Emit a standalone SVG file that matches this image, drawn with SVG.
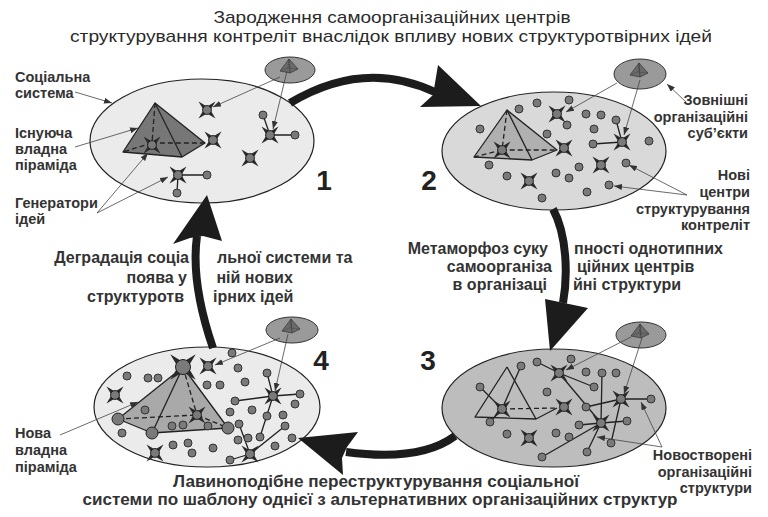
<svg xmlns="http://www.w3.org/2000/svg" width="768" height="517" viewBox="0 0 768 517">
<style>
.t{font-family:"Liberation Sans",Arial,sans-serif;font-weight:bold;fill:#333}
.lb{font-size:14.5px}
.r{text-anchor:end}
.e{text-anchor:end}
.s{text-anchor:start}
.mid{font-size:16px}
.num{font-size:28px;fill:#222}
.ttl{font-family:"Liberation Sans Narrow","Liberation Sans",Arial,sans-serif;font-weight:normal;font-size:17px;fill:#2a2a2a;text-anchor:middle}
.bt{font-size:16px;text-anchor:middle}
.ell{stroke:#222;stroke-width:1.2}
.sm{fill:#9a9a9a;stroke:#333;stroke-width:1}
.ln{stroke:#222;stroke-width:1.3;fill:none}
.ds{stroke:#222;stroke-width:1.3;stroke-dasharray:5 3;fill:none}
.pe{stroke:#222;stroke-width:1.3;stroke-linejoin:round}
.ld{stroke:#444;stroke-width:0.8;fill:none;marker-end:url(#ah)}
.big{stroke:#1c1c1c;stroke-width:8;fill:none}
.bh{fill:#1c1c1c}
</style>
<defs>
<marker id="ah" viewBox="0 0 8 6" refX="8" refY="3" markerWidth="8" markerHeight="6" markerUnits="userSpaceOnUse" orient="auto"><path d="M0,0 L8,3 L0,6 z" fill="#333"/></marker>
<g id="g"><polygon points="8.5,-8.5 3.4,0 8.5,8.5 0,3.4 -8.5,8.5 -3.4,0 -8.5,-8.5 0,-3.4" fill="#2a2a2a"/><circle r="4.4" fill="#7a7a7a" stroke="#222" stroke-width="1"/></g>
<circle id="d" r="4" fill="#7a7a7a" stroke="#333" stroke-width="1"/>
<g id="sp"><polygon points="0,-8 -9,4 1,6 9,2" fill="#6a6a6a" stroke="#333" stroke-width="0.7"/><path d="M0,-8 L1,6" stroke="#333" stroke-width="0.6"/><path d="M0,-8 L-1,1 L9,2 M-1,1 L-9,4" stroke="#333" stroke-width="0.5" stroke-dasharray="1.5 1" fill="none"/></g>
</defs>
<rect width="768" height="517" fill="#fff"/>

<g id="title">
<text class="ttl" x="392" y="23" textLength="357" lengthAdjust="spacingAndGlyphs">Зародження самоорганізаційних центрів</text>
<text class="ttl" x="391" y="42" textLength="642" lengthAdjust="spacingAndGlyphs">структурування контреліт  внаслідок впливу нових структуротвірних ідей</text>
</g>

<g id="node1">
<ellipse class="ell" cx="202" cy="141" rx="112" ry="62" fill="#ebebeb"/>
<polygon class="pe" points="155,103 123,152 182,157 205,143" fill="#777"/>
<path class="pe" d="M155,103 L182,157" fill="none"/>
<path class="ds" d="M155,103 L152,143 L205,143 M152,143 L123,152"/>
<use href="#g" x="152" y="145"/>
<path class="ln" d="M270,135 L295,135 M270,135 L263,115 M178,175 L207,175 M178,175 L177,193"/>
<use href="#d" x="295" y="135"/><use href="#d" x="263" y="115"/><use href="#d" x="207" y="175"/><use href="#d" x="177" y="193"/>
<use href="#g" x="207" y="110"/><use href="#g" x="213" y="140"/><use href="#g" x="270" y="135"/><use href="#g" x="250" y="158"/><use href="#g" x="178" y="175"/>
<ellipse class="sm" cx="290" cy="70" rx="25" ry="13"/>
<use href="#sp" x="289" y="67"/>
<text class="t num" x="324" y="190" text-anchor="middle">1</text>
</g>

<g id="node2">
<ellipse class="ell" cx="554" cy="151" rx="112" ry="59" fill="#d9d9d9"/>
<polygon class="pe" points="507,110 474,157 532,160 557,150" fill="#b0b0b0"/>
<path class="pe" d="M507,110 L532,160" fill="none"/>
<path class="ds" d="M507,110 L502,150 L557,150 M502,150 L474,157"/>
<path class="ln" d="M622,142 L593,144 M622,142 L616,120"/>
<use href="#d" x="537" y="103"/><use href="#d" x="569" y="100"/><use href="#d" x="519" y="109"/><use href="#d" x="480" y="129"/><use href="#d" x="547" y="134"/><use href="#d" x="567" y="125"/><use href="#d" x="586" y="114"/><use href="#d" x="601" y="115"/><use href="#d" x="594" y="129"/><use href="#d" x="616" y="120"/><use href="#d" x="593" y="144"/><use href="#d" x="649" y="141"/><use href="#d" x="489" y="165"/><use href="#d" x="507" y="176"/><use href="#d" x="556" y="173"/><use href="#d" x="569" y="178"/><use href="#d" x="579" y="167"/><use href="#d" x="626" y="163"/><use href="#d" x="609" y="185"/><use href="#d" x="587" y="192"/><use href="#d" x="542" y="198"/>
<use href="#g" x="502" y="150"/><use href="#g" x="557" y="114"/><use href="#g" x="564" y="148"/><use href="#g" x="622" y="142"/><use href="#g" x="601" y="165"/><use href="#g" x="529" y="181"/>
<ellipse class="sm" cx="640" cy="74" rx="26" ry="15"/>
<use href="#sp" x="639" y="71"/>
<text class="t num" x="429" y="190" text-anchor="middle">2</text>
</g>

<g id="node3">
<ellipse class="ell" cx="554" cy="408" rx="112" ry="59" fill="#bdbdbd"/>
<path class="pe" d="M507,367 L475,417 L536,419 L557,408 M507,367 L536,419" fill="none"/>
<path class="ds" d="M502,409 L557,408"/>
<path class="ln" d="M537,362 L559,373 L594,387 M559,373 L601,423 M601,423 L602,373 M601,423 L627,421 M601,423 L579,425 M601,423 L587,452 M601,423 L542,457 M621,399 L651,399 M621,399 L586,407 M621,399 L611,443 M480,387 L502,409 M521,366 L502,409 M490,422 L502,409"/>
<use href="#d" x="537" y="362"/><use href="#d" x="571" y="359"/><use href="#d" x="521" y="366"/><use href="#d" x="480" y="387"/><use href="#d" x="547" y="392"/><use href="#d" x="594" y="387"/><use href="#d" x="586" y="372"/><use href="#d" x="602" y="373"/><use href="#d" x="616" y="373"/><use href="#d" x="586" y="407"/><use href="#d" x="651" y="399"/><use href="#d" x="490" y="422"/><use href="#d" x="507" y="434"/><use href="#d" x="556" y="433"/><use href="#d" x="569" y="437"/><use href="#d" x="579" y="425"/><use href="#d" x="627" y="421"/><use href="#d" x="611" y="443"/><use href="#d" x="587" y="452"/><use href="#d" x="542" y="457"/>
<use href="#g" x="502" y="409"/><use href="#g" x="559" y="373"/><use href="#g" x="564" y="407"/><use href="#g" x="621" y="399"/><use href="#g" x="601" y="423"/><use href="#g" x="529" y="438"/>
<ellipse class="sm" cx="641" cy="335" rx="25" ry="13"/>
<use href="#sp" x="640" y="332"/>
<text class="t num" x="428" y="370" text-anchor="middle">3</text>
</g>

<g id="node4">
<ellipse class="ell" cx="207" cy="407" rx="113" ry="60" fill="#ebebeb"/>
<polygon class="pe" points="183,367 118,419 152,433 228,428" fill="#a9a9a9"/>
<path class="pe" d="M183,367 L152,433" fill="none"/>
<path class="ds" d="M183,367 L197,415 M118,419 L197,415 L228,428"/>
<path class="ln" d="M273,396 L235,401 M273,396 L300,394 M273,396 L267,373 M273,396 L260,437 M250,454 L230,460 M250,454 L285,426 M250,454 L239,424"/>
<use href="#d" x="127" y="376"/><use href="#d" x="148" y="378"/><use href="#d" x="158" y="378"/><use href="#d" x="232" y="353"/><use href="#d" x="238" y="368"/><use href="#d" x="267" y="373"/><use href="#d" x="207" y="385"/><use href="#d" x="220" y="385"/><use href="#d" x="245" y="382"/><use href="#d" x="235" y="401"/><use href="#d" x="252" y="410"/><use href="#d" x="230" y="412"/><use href="#d" x="267" y="416"/><use href="#d" x="283" y="415"/><use href="#d" x="300" y="394"/><use href="#d" x="295" y="404"/><use href="#d" x="145" y="410"/><use href="#d" x="122" y="433"/><use href="#d" x="172" y="426"/><use href="#d" x="183" y="425"/><use href="#d" x="208" y="426"/><use href="#d" x="239" y="424"/><use href="#d" x="285" y="426"/><use href="#d" x="260" y="437"/><use href="#d" x="238" y="440"/><use href="#d" x="248" y="438"/><use href="#d" x="173" y="445"/><use href="#d" x="188" y="443"/><use href="#d" x="192" y="453"/><use href="#d" x="213" y="448"/><use href="#d" x="275" y="446"/><use href="#d" x="292" y="438"/><use href="#d" x="230" y="460"/>
<use href="#g" x="208" y="366"/><use href="#g" x="115" y="395"/><use href="#g" x="155" y="453"/><use href="#g" x="273" y="396"/><use href="#g" x="250" y="454"/><use href="#g" x="197" y="415"/>
<use href="#g" transform="translate(183,367) scale(1.5)"/>
<circle cx="183" cy="367" r="7.5" fill="#7a7a7a" stroke="#222" stroke-width="1"/>
<circle cx="118" cy="419" r="6" fill="#7a7a7a" stroke="#222" stroke-width="1"/>
<circle cx="152" cy="433" r="6" fill="#7a7a7a" stroke="#222" stroke-width="1"/>
<circle cx="228" cy="428" r="6" fill="#7a7a7a" stroke="#222" stroke-width="1"/>
<ellipse class="sm" cx="292" cy="330" rx="26" ry="13"/>
<use href="#sp" x="291" y="327"/>
<text class="t num" x="321" y="370" text-anchor="middle">4</text>
</g>

<g id="cycle">
<path class="big" d="M290,103 Q365,58 437,93"/>
<polygon class="bh" points="438,65 481,106 420,107 433,95"/>
<path class="big" d="M553,209 C567,235 568,275 563,303"/>
<polygon class="bh" points="545,299 588,308 550,351"/>
<path class="big" d="M455,436 Q420,462 346,452"/>
<polygon class="bh" points="298,438 358,432 347,447 342,458 343,475"/>
<path class="big" d="M213,348 C200,310 192,272 197,236"/>
<polygon class="bh" points="207,195 222,241 203,236 190,238 173,244"/>
</g>

<g id="connectors">
<path class="ld" d="M75,92 L112,103"/>
<path class="ld" d="M75,147 L138,128"/>
<path class="ld" d="M97,213 L148,153"/>
<path class="ld" d="M97,213 L168,177"/>
<path class="ld" d="M686,102 L667,84"/>
<path class="ld" d="M687,195 L629,165"/>
<path class="ld" d="M687,195 L614,186"/>
<path class="ld" d="M662,447 L641,402"/>
<path class="ld" d="M662,447 L597,437"/>
<path class="ld" d="M60,435 L138,402"/>
<path class="ld" d="M280,77 L213,107"/>
<path class="ld" d="M287,71 L273,129"/>
<path class="ld" d="M617,83 L566,112"/>
<path class="ld" d="M640,80 L624,135"/>
<path class="ld" d="M631,337 L566,370"/>
<path class="ld" d="M642,338 L624,394"/>
<path class="ld" d="M280,338 L215,365"/>
<path class="ld" d="M288,334 L275,391"/>
</g>

<g id="labels">
<text class="t lb" x="15" y="82">Соціальна</text>
<text class="t lb" x="15" y="98">система</text>
<text class="t lb" x="15" y="138">Існуюча</text>
<text class="t lb" x="15" y="154">владна</text>
<text class="t lb" x="15" y="170">піраміда</text>
<text class="t lb" x="15" y="208">Генератори</text>
<text class="t lb" x="15" y="224">ідей</text>
<text class="t lb r" x="748" y="105">Зовнішні</text>
<text class="t lb r" x="748" y="122">організаційні</text>
<text class="t lb r" x="748" y="138">суб’єкти</text>
<text class="t lb r" x="750" y="180">Нові</text>
<text class="t lb r" x="750" y="197">центри</text>
<text class="t lb r" x="750" y="214">структурування</text>
<text class="t lb r" x="750" y="230">контреліт</text>
<text class="t lb r" x="752" y="460">Новостворені</text>
<text class="t lb r" x="752" y="477">організаційні</text>
<text class="t lb r" x="752" y="493">структури</text>
<text class="t lb" x="15" y="438">Нова</text>
<text class="t lb" x="15" y="455">владна</text>
<text class="t lb" x="15" y="472">піраміда</text>
</g>

<g id="stage-texts">
<text class="t mid" y="263"><tspan class="e" x="189">Деградація соціа</tspan><tspan class="s" x="217">льної системи та</tspan></text>
<text class="t mid" y="283"><tspan class="e" x="187">поява у</tspan><tspan class="s" x="212"> ній нових</tspan></text>
<text class="t mid" y="302"><tspan class="e" x="184">структуротв</tspan><tspan class="s" x="213">ірних  ідей</tspan></text>
<text class="t mid" y="254"><tspan class="e" x="548">Метаморфоз суку</tspan><tspan class="s" x="574">пності однотипних</tspan></text>
<text class="t mid" y="272"><tspan class="e" x="552">самоорганіза</tspan><tspan class="s" x="577">ційних центрів</tspan></text>
<text class="t mid" y="290"><tspan class="e" x="547">в організаці</tspan><tspan class="s" x="573">йні структури</tspan></text>
<text class="t bt" x="376" y="487" textLength="406" lengthAdjust="spacingAndGlyphs">Лавиноподібне переструктурування соціальної</text>
<text class="t bt" x="380" y="505" textLength="595" lengthAdjust="spacingAndGlyphs">системи по шаблону  однієї з альтернативних організаційних структур</text>
</g>
</svg>
